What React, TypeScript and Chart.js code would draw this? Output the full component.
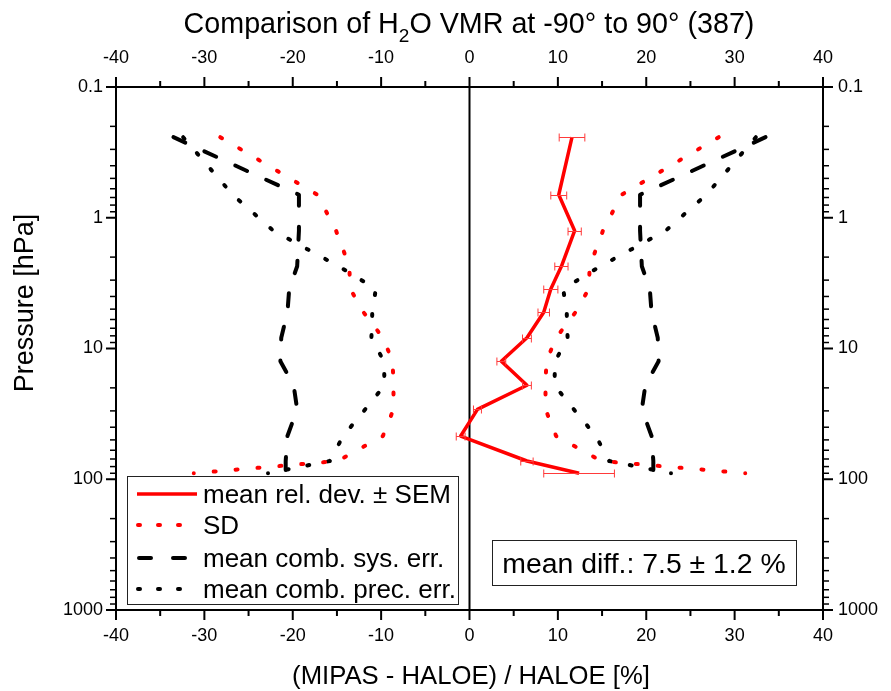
import React, { useEffect, useRef } from 'react';
import { Chart, registerables } from 'chart.js';
Chart.register(...registerables);

// Pressure levels [hPa]
const pressure = [0.242, 0.667, 1.256, 2.35, 3.5, 5.28, 8.28, 12.5, 19.1, 29.2, 46.7, 72.5, 90.0];
// mean relative deviation [%]
const meanDev = [11.6, 10.1, 11.9, 10.4, 9.2, 8.4, 6.5, 3.6, 6.5, 0.9, -1.0, 6.5, 12.4];
// standard error of the mean [%]
const sem = [1.45, 0.9, 0.75, 0.75, 0.8, 0.65, 0.5, 0.5, 0.5, 0.45, 0.5, 0.7, 4.0];
// standard deviation [%]
const sd = [28.2, 17.2, 15.1, 13.6, 13.5, 12.0, 9.8, 8.7, 8.6, 8.6, 9.8, 14.9, 31.2];
// mean combined systematic error [%]
const sysErr = [33.5, 19.3, 19.3, 19.5, 20.4, 20.6, 21.3, 21.4, 19.9, 19.5, 20.6, 20.8, 20.8];
// mean combined precision error [%]
const precErr = [32.4, 26.8, 22.2, 14.8, 10.6, 11.0, 11.1, 9.7, 9.6, 11.8, 14.3, 15.8, 22.8];

const yTickLabels = [0.1, 1, 10, 100, 1000];
const xMajorTicks = [-40, -30, -20, -10, 0, 10, 20, 30, 40];
const xMinorTicks = [-35, -25, -15, -5, 5, 15, 25, 35];

const legendLabels = ['mean rel. dev. \u00b1 SEM', 'SD', 'mean comb. sys. err.', 'mean comb. prec. err.'];
const meanDiffText = 'mean diff.: 7.5 \u00b1 1.2 %';
const titleParts = ['Comparison of H', '2', 'O VMR at -90\u00b0 to 90\u00b0 (387)'];
const xTitle = '(MIPAS - HALOE) / HALOE [%]';
const yTitle = 'Pressure [hPa]';

const FONT = '"Liberation Sans", Arial, Helvetica, sans-serif';
const RED = '#ff0000';

export default function App() {
  const ref = useRef<HTMLCanvasElement>(null);

  useEffect(() => {
    document.body.style.margin = '0';
    const canvas = ref.current!;
    const pts = (vals: number[], sign = 1) => vals.map((v, i) => ({ x: sign * v, y: pressure[i] }));

    const fitDash = {
      id: 'fitDash',
      beforeDatasetDraw(chart: any, args: any) {
        try {
          const meta = args.meta;
          const ds = chart.data.datasets[args.index];
          if (!ds.fitPeriod) return;
          const els = meta.data;
          let L = 0;
          for (let i = 1; i < els.length; i++) {
            L += Math.hypot(els[i].x - els[i - 1].x, els[i].y - els[i - 1].y);
          }
          const n = Math.max(1, Math.round(L / ds.fitPeriod));
          const p = L / n;
          meta.dataset.options.borderDash = [ds.fitDash, p - ds.fitDash];
        } catch (e) {
          /* ignore */
        }
      },
    };

    const decor = {
      id: 'decor',
      beforeDatasetsDraw(chart: any) {
        const ctx = chart.ctx;
        const { top, bottom } = chart.chartArea;
        const x0 = chart.scales.x.getPixelForValue(0);
        ctx.save();
        ctx.strokeStyle = '#000';
        ctx.lineWidth = 2;
        ctx.beginPath();
        ctx.moveTo(x0, top);
        ctx.lineTo(x0, bottom);
        ctx.stroke();
        ctx.restore();
      },
      afterDatasetsDraw(chart: any) {
        const ctx = chart.ctx;
        const xs = chart.scales.x;
        const ys = chart.scales.y;
        ctx.save();
        ctx.strokeStyle = '#ff3a3a';
        ctx.lineWidth = 1;
        for (let i = 0; i < pressure.length; i++) {
          const y = Math.round(ys.getPixelForValue(pressure[i])) + 0.5;
          const xl = xs.getPixelForValue(meanDev[i] - sem[i]);
          const xr = xs.getPixelForValue(meanDev[i] + sem[i]);
          ctx.beginPath();
          ctx.moveTo(xl, y);
          ctx.lineTo(xr, y);
          ctx.moveTo(xl, y - 4);
          ctx.lineTo(xl, y + 4);
          ctx.moveTo(xr, y - 4);
          ctx.lineTo(xr, y + 4);
          ctx.stroke();
        }
        ctx.restore();
      },
      afterDraw(chart: any) {
        const ctx = chart.ctx;
        const { left, right, top, bottom } = chart.chartArea;
        const xs = chart.scales.x;
        const ys = chart.scales.y;
        ctx.save();
        // ticks
        ctx.strokeStyle = '#000';
        ctx.lineWidth = 2;
        const tick = (x1: number, y1: number, x2: number, y2: number) => {
          ctx.beginPath();
          ctx.moveTo(x1, y1);
          ctx.lineTo(x2, y2);
          ctx.stroke();
        };
        xMajorTicks.forEach((v) => {
          const px = xs.getPixelForValue(v);
          tick(px, bottom, px, bottom + 10);
          tick(px, top, px, top - 10);
        });
        xMinorTicks.forEach((v) => {
          const px = xs.getPixelForValue(v);
          tick(px, bottom, px, bottom + 6);
          tick(px, top, px, top - 6);
        });
        for (let d = -1; d <= 3; d++) {
          const base = Math.pow(10, d);
          const py = ys.getPixelForValue(base);
          ctx.lineWidth = 2;
          tick(left, py, left - 10, py);
          tick(right, py, right + 10, py);
          if (d < 3) {
            ctx.lineWidth = 1.5;
            for (let m = 2; m <= 9; m++) {
              const pm = ys.getPixelForValue(base * m);
              tick(left, pm, left - 6, pm);
              tick(right, pm, right + 6, pm);
            }
          }
        }
        // title
        ctx.fillStyle = '#000';
        ctx.textBaseline = 'alphabetic';
        ctx.textAlign = 'left';
        const bigF = `28.7px ${FONT}`;
        const subF = `19px ${FONT}`;
        ctx.font = bigF;
        const w0 = ctx.measureText(titleParts[0]).width;
        const w2 = ctx.measureText(titleParts[2]).width;
        ctx.font = subF;
        const w1 = ctx.measureText(titleParts[1]).width;
        const total = w0 + w1 + w2;
        let tx = 469 - total / 2;
        const tb = 33;
        ctx.font = bigF;
        ctx.fillText(titleParts[0], tx, tb);
        tx += w0;
        ctx.font = subF;
        ctx.fillText(titleParts[1], tx, tb + 9);
        tx += w1;
        ctx.font = bigF;
        ctx.fillText(titleParts[2], tx, tb);
        // axis titles
        ctx.textAlign = 'center';
        ctx.textBaseline = 'middle';
        ctx.font = `25.7px ${FONT}`;
        ctx.fillText(xTitle, 471, 677);
        ctx.save();
        ctx.translate(26, 303);
        ctx.rotate(-Math.PI / 2);
        ctx.font = `27px ${FONT}`;
        ctx.fillText(yTitle, 0, 0);
        ctx.restore();
        // legend box
        ctx.fillStyle = '#fff';
        ctx.fillRect(127, 476, 331, 128);
        ctx.strokeStyle = '#222';
        ctx.lineWidth = 1;
        ctx.strokeRect(127.5, 476.5, 331, 128);
        const rows = [494, 525, 558, 589];
        const bases = [503, 534, 567, 598];
        // sample lines
        ctx.lineCap = 'butt';
        ctx.strokeStyle = RED;
        ctx.lineWidth = 3.5;
        tick(137, rows[0], 197, rows[0]);
        ctx.lineCap = 'round';
        ctx.lineWidth = 4;
        ctx.setLineDash([2, 18]);
        ctx.strokeStyle = RED;
        tick(138, rows[1], 182, rows[1]);
        ctx.strokeStyle = '#000';
        ctx.setLineDash([12, 22]);
        tick(139, rows[2], 186, rows[2]);
        ctx.setLineDash([2, 18]);
        tick(138, rows[3], 182, rows[3]);
        ctx.setLineDash([]);
        ctx.lineCap = 'butt';
        ctx.fillStyle = '#000';
        ctx.font = `26px ${FONT}`;
        ctx.textAlign = 'left';
        ctx.textBaseline = 'alphabetic';
        legendLabels.forEach((l, i) => ctx.fillText(l, 203, bases[i]));
        // mean diff box
        ctx.fillStyle = '#fff';
        ctx.fillRect(492, 540, 304, 45);
        ctx.strokeStyle = '#222';
        ctx.lineWidth = 1;
        ctx.strokeRect(492.5, 540.5, 304, 45);
        ctx.fillStyle = '#000';
        ctx.font = `28.4px ${FONT}`;
        ctx.textAlign = 'center';
        ctx.fillText(meanDiffText, 644, 573);
        ctx.restore();
      },
    };

    const lineDs = (label: string, data: any[], color: string, width: number, dash: number[], cap: string, fit?: number) => ({
      label,
      data,
      showLine: true,
      borderColor: color,
      backgroundColor: color,
      borderWidth: width,
      borderDash: dash,
      borderCapStyle: cap,
      borderJoinStyle: 'round',
      pointRadius: 0,
      pointHoverRadius: 0,
      tension: 0,
      fill: false,
      xAxisID: 'x',
      yAxisID: 'y',
      fitPeriod: fit,
      fitDash: dash.length ? dash[0] : 0,
    });

    const tickFont = { family: FONT, size: 18 };

    const chart = new Chart(canvas, {
      type: 'scatter',
      data: {
        datasets: [
          lineDs('mean', pts(meanDev), RED, 3.5, [], 'butt'),
          lineDs('SD+', pts(sd), RED, 4, [2, 20], 'round', 22),
          lineDs('SD-', pts(sd, -1), RED, 4, [2, 20], 'round', 22),
          lineDs('sys+', pts(sysErr), '#000', 4, [13, 21], 'round'),
          lineDs('sys-', pts(sysErr, -1), '#000', 4, [13, 21], 'round'),
          lineDs('prec+', pts(precErr), '#000', 4, [2, 19], 'round', 21),
          lineDs('prec-', pts(precErr, -1), '#000', 4, [2, 19], 'round', 21),
        ] as any,
      },
      options: {
        responsive: false,
        animation: false,
        devicePixelRatio: 1,
        layout: { padding: 0 },
        plugins: { legend: { display: false }, tooltip: { enabled: false }, title: { display: false } },
        scales: {
          x: {
            type: 'linear',
            position: 'bottom',
            min: -40,
            max: 40,
            afterFit: (s: any) => { s.height = 81; },
            ticks: { stepSize: 10, color: '#000', font: tickFont, padding: 15, maxRotation: 0, autoSkip: false },
            grid: { display: false, drawTicks: false },
            border: { display: true, color: '#000', width: 2 },
          },
          x2: {
            type: 'linear',
            position: 'top',
            min: -40,
            max: 40,
            afterFit: (s: any) => { s.height = 87; },
            ticks: { stepSize: 10, color: '#000', font: tickFont, padding: 18, maxRotation: 0, autoSkip: false },
            grid: { display: false, drawTicks: false },
            border: { display: true, color: '#000', width: 2 },
          },
          y: {
            type: 'logarithmic',
            position: 'left',
            min: 0.1,
            max: 1000,
            reverse: true,
            afterFit: (s: any) => { s.width = 116; },
            afterBuildTicks: (s: any) => { s.ticks = yTickLabels.map((v) => ({ value: v })); },
            ticks: { color: '#000', font: tickFont, padding: 13, autoSkip: false, callback: (v: any) => String(v) },
            grid: { display: false, drawTicks: false },
            border: { display: true, color: '#000', width: 2 },
          },
          y2: {
            type: 'logarithmic',
            position: 'right',
            min: 0.1,
            max: 1000,
            reverse: true,
            afterFit: (s: any) => { s.width = 68; },
            afterBuildTicks: (s: any) => { s.ticks = yTickLabels.map((v) => ({ value: v })); },
            ticks: { color: '#000', font: tickFont, padding: 15, autoSkip: false, callback: (v: any) => String(v) },
            grid: { display: false, drawTicks: false },
            border: { display: true, color: '#000', width: 2 },
          },
        },
      } as any,
      plugins: [fitDash, decor],
    });
    return () => chart.destroy();
  }, []);

  return (
    <div style={{ width: 891, height: 691 }}>
      <canvas ref={ref} width={891} height={691} style={{ display: 'block', width: 891, height: 691 }} />
    </div>
  );
}
